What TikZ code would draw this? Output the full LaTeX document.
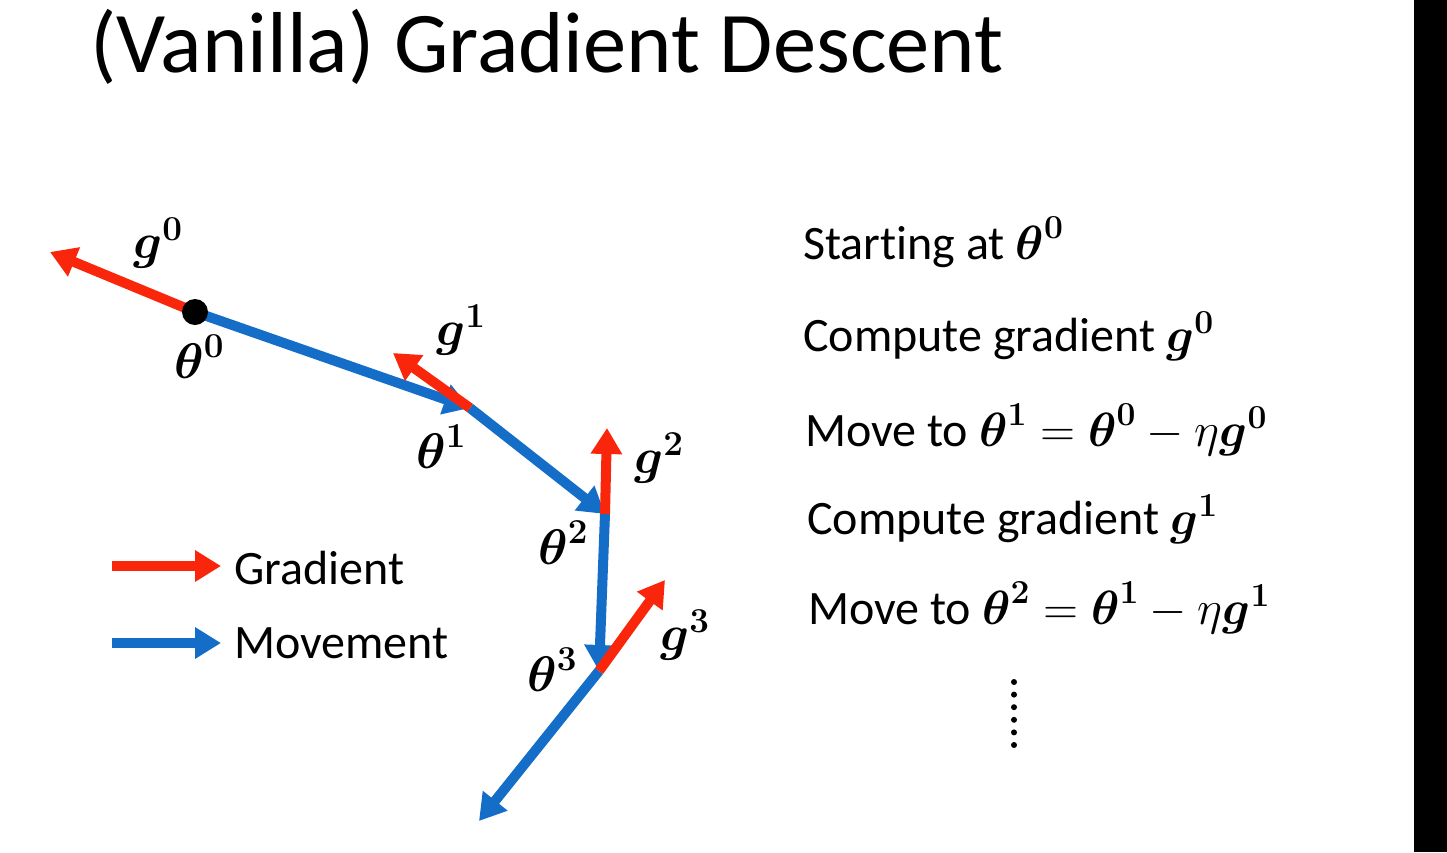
\documentclass[tikz,border=0pt]{standalone}
\usepackage{fix-cm}
\usepackage{amsmath}
\usepackage{amssymb}
\usepackage[no-math]{fontspec}
\setmainfont{Carlito}[Ligatures=NoCommon]
\usetikzlibrary{arrows.meta,positioning}
\definecolor{gradred}{RGB}{250,38,12}
\definecolor{moveblue}{RGB}{20,110,200}
\newcommand{\vth}[1]{\boldsymbol{\theta}^{\mathbf{#1}}}
\newcommand{\vg}[1]{\boldsymbol{g}^{\mathbf{#1}}}
\tikzstyle{grad} = [draw=gradred, line width=10pt, -{Triangle[length=26pt,width=30pt]}]
\tikzstyle{move} = [draw=moveblue, line width=10pt, -{Triangle[length=26pt,width=30pt]}]
\tikzstyle{lbl} = [inner sep=0pt, font=\fontsize{50}{56}\selectfont]
\tikzstyle{txt} = [inner sep=0pt, anchor=base west, font=\fontsize{48}{56}\selectfont]
\tikzstyle{dot} = [circle, fill=black, inner sep=0pt, minimum size=26pt]

\begin{document}
\begin{tikzpicture}[x=1pt, y=-1pt]
    \useasboundingbox (0,0) rectangle (1447,852);
    \fill[white] (0,0) rectangle (1447,852);
    \fill[black] (1414,0) rectangle (1447,852);

    % Title
    \node [inner sep=0pt, anchor=base west, font=\fontsize{86.5}{96}\selectfont] (title) at (90,72) {(Vanilla) Gradient Descent};

    % Points
    \coordinate (t0) at (195,312);
    \coordinate (t1) at (470,408);
    \coordinate (t2) at (605,514);
    \coordinate (t3) at (599,671);
    \coordinate (t4) at (479,821);
    \coordinate (g0) at (50,252);
    \coordinate (g1) at (393,353);
    \coordinate (g2) at (607,428);
    \coordinate (g3) at (665,580);

    % Paths
    \path [move] (t0) -- (t1);
    \path [move] (t1) -- (t2);
    \path [move] (t2) -- (t3);
    \path [move] (t3) -- (t4);
    \path [grad] (t0) -- (g0);
    \path [grad] (t1) -- (g1);
    \path [grad] (t2) -- (g2);
    \path [grad] (t3) -- (g3);
    \node [dot] (start) at (t0) {};

    % Labels
    \node [lbl] (g0lbl) at (158,243) {$\vg{0}$};
    \node [lbl] (t0lbl) at (199,357) {$\vth{0}$};
    \node [lbl] (g1lbl) at (461,330) {$\vg{1}$};
    \node [lbl] (t1lbl) at (441,447) {$\vth{1}$};
    \node [lbl] (g2lbl) at (659,458) {$\vg{2}$};
    \node [lbl] (t2lbl) at (563,543) {$\vth{2}$};
    \node [lbl] (g3lbl) at (685,635) {$\vg{3}$};
    \node [lbl] (t3lbl) at (552,670) {$\vth{3}$};

    % Legend
    \coordinate (lg1) at (112,566);
    \coordinate (lg2) at (221,566);
    \coordinate (lm1) at (112,643);
    \coordinate (lm2) at (221,643);
    \path [grad] (lg1) -- (lg2);
    \path [move] (lm1) -- (lm2);
    \node [txt] (gradtxt) at (234,584) {Gradient};
    \node [txt] (movetxt) at (234,658) {Movement};

    % Steps
    \node [txt] (s1) at (803,259) {Starting at $\vth{0}$};
    \node [txt] (s2) at (803,351) {Compute gradient $\vg{0}$};
    \node [txt] (s3) at (805,446) {Move to $\vth{1}=\vth{0}-\eta\vg{0}$};
    \node [txt] (s4) at (807,534) {Compute gradient $\vg{1}$};
    \node [txt] (s5) at (808,624) {Move to $\vth{2}=\vth{1}-\eta\vg{1}$};
    \foreach \k in {0,...,5}
        \fill (1014,682+12.6*\k) circle (3pt);
\end{tikzpicture}
\end{document}
